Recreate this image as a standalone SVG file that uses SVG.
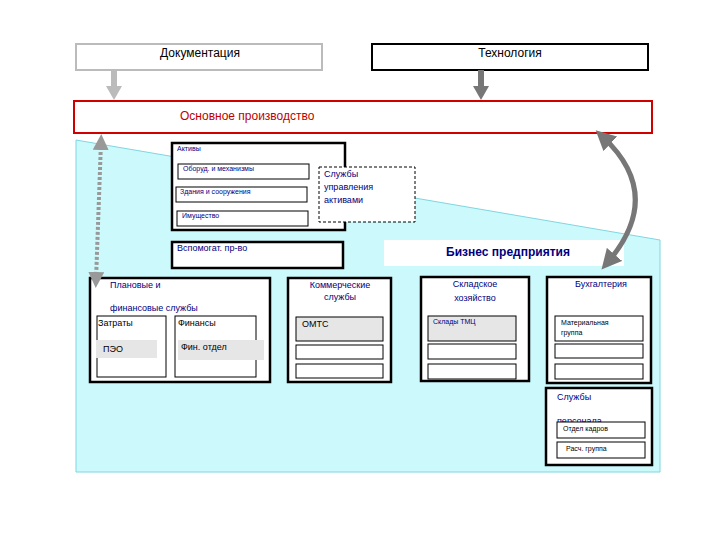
<svg xmlns="http://www.w3.org/2000/svg" width="720" height="540" viewBox="0 0 720 540">
<style>
text{font-family:"Liberation Sans",Arial,sans-serif;}
.b{fill:#fff;stroke:#000;stroke-width:2.5}
.t{fill:#fff;stroke:#000;stroke-width:1}
.g{fill:#e6e6e6;stroke:#000;stroke-width:1}
.n{fill:#000080;font-size:9px}
.s{fill:#000080;font-size:7px}
.k{fill:#000;font-size:9px}
</style>
<defs>
<marker id="ah" viewBox="0 0 10 10" refX="5" refY="5" markerWidth="4" markerHeight="4" orient="auto-start-reverse"><path d="M0,0L10,5L0,10z" fill="#777"/></marker>
<marker id="ad" viewBox="0 0 10 10" refX="5" refY="5" markerWidth="4" markerHeight="4" orient="auto-start-reverse"><path d="M0,0L10,5L0,10z" fill="#999"/></marker>
</defs>
<rect width="720" height="540" fill="#fff"/>
<polygon points="76,140 660,240 660,472 76,472" fill="#ccfafc" stroke="#7fd6e0" stroke-width="1"/>
<g id="doc"><rect x="76" y="44" width="246" height="26" fill="#fff" stroke="#bbb" stroke-width="2"/><text x="200" y="57" font-size="12" text-anchor="middle">Документация</text></g>
<g id="tech"><rect x="372" y="44" width="276" height="26" fill="#fff" stroke="#000" stroke-width="2"/><text x="510" y="57" font-size="12" text-anchor="middle">Технология</text></g>
<g id="main"><rect x="74" y="101" width="578" height="32" fill="#fff" stroke="#d00000" stroke-width="2"/><text x="180" y="120" font-size="12" fill="#c00000">Основное производство</text></g>
<g id="aktivy"><rect class="b" x="172" y="143" width="173" height="87"/><text class="s" x="177" y="151" font-size="8">Активы</text>
<rect class="t" x="178" y="164" width="131" height="15"/><text class="s" x="183" y="171">Оборуд. и механизмы</text>
<rect class="t" x="176" y="187" width="131" height="15"/><text class="s" x="180" y="194">Здания и сооружения</text>
<rect class="t" x="177" y="211" width="131" height="15"/><text class="s" x="182" y="218">Имущество</text></g>
<g id="sluzhby"><rect x="319" y="167" width="96" height="55" fill="#fff" stroke="#000" stroke-dasharray="3,2"/><text class="n" x="324" y="177">Службы</text><text class="n" x="324" y="190">управления</text><text class="n" x="324" y="203">активами</text></g>
<g id="vspom"><rect class="b" x="172" y="242" width="171" height="26"/><text class="n" x="177" y="251">Вспомогат. пр-во</text></g>
<g id="biz"><rect x="384" y="240" width="240" height="26" fill="#fff"/><text x="508" y="256" font-size="12" font-weight="bold" fill="#000080" text-anchor="middle">Бизнес предприятия</text></g>
<g id="plan"><rect class="b" x="90" y="278" width="180" height="104"/><text class="n" x="110" y="288">Плановые и</text><text class="n" x="110" y="311">финансовые службы</text>
<rect class="t" x="97" y="316" width="69" height="61"/><text class="k" x="98" y="326">Затраты</text><rect x="96" y="340" width="61" height="18" fill="#e6e6e6"/><text class="k" x="103" y="352">ПЭО</text>
<rect class="t" x="175" y="316" width="81" height="61"/><text class="k" x="178" y="326">Финансы</text><rect x="178" y="340" width="86" height="20" fill="#e6e6e6"/><text class="k" x="181" y="350">Фин. отдел</text></g>
<g id="komm"><rect class="b" x="288" y="278" width="103" height="104"/><text class="n" x="340" y="288" text-anchor="middle">Коммерческие</text><text class="n" x="340" y="300" text-anchor="middle">службы</text>
<rect class="g" x="296" y="317" width="87" height="24"/><text class="k" x="302" y="327">ОМТС</text><rect class="t" x="296" y="345" width="87" height="14"/><rect class="t" x="296" y="364" width="87" height="14"/></g>
<g id="sklad"><rect class="b" x="421" y="277" width="108" height="104"/><text class="n" x="475" y="287" text-anchor="middle">Складское</text><text class="n" x="475" y="301" text-anchor="middle">хозяйство</text>
<rect class="g" x="428" y="316" width="88" height="25"/><text class="s" x="433" y="324" font-size="8">Склады ТМЦ</text><rect class="t" x="428" y="344" width="88" height="15"/><rect class="t" x="428" y="364" width="88" height="15"/></g>
<g id="buh"><rect class="b" x="547" y="277" width="104" height="106"/><text class="n" x="601" y="287" text-anchor="middle">Бухгалтерия</text>
<rect class="t" x="555" y="316" width="88" height="25"/><text x="561" y="325" font-size="7" fill="#000">Материальная</text><text x="561" y="335" font-size="7" fill="#000">группа</text>
<rect class="t" x="555" y="344" width="88" height="14"/><rect class="t" x="555" y="364" width="88" height="15"/></g>
<g id="pers"><rect class="b" x="546" y="388" width="106" height="77"/><text class="n" x="557" y="400">Службы</text><text class="n" x="557" y="424">персонала</text>
<rect class="t" x="557" y="422" width="88" height="16"/><text x="563" y="431" font-size="7">Отдел кадров</text><rect class="t" x="557" y="442" width="88" height="16"/><text x="566" y="451" font-size="7">Расч. группа</text></g>
<g id="connectors">
<path d="M114,70V88" stroke="#bbb" stroke-width="6"/><path d="M106,86H122L114,100z" fill="#bbb"/>
<path d="M481,70V88" stroke="#777" stroke-width="6"/><path d="M473,86H489L481,100z" fill="#777"/>
<path d="M101,142 L96,280" stroke="#999" stroke-width="4" stroke-dasharray="3,2" marker-start="url(#ad)" marker-end="url(#ad)"/>
<path d="M603,137 Q665,195 608,262" fill="none" stroke="#777" stroke-width="5" marker-start="url(#ah)" marker-end="url(#ah)"/>
</g>
</svg>
